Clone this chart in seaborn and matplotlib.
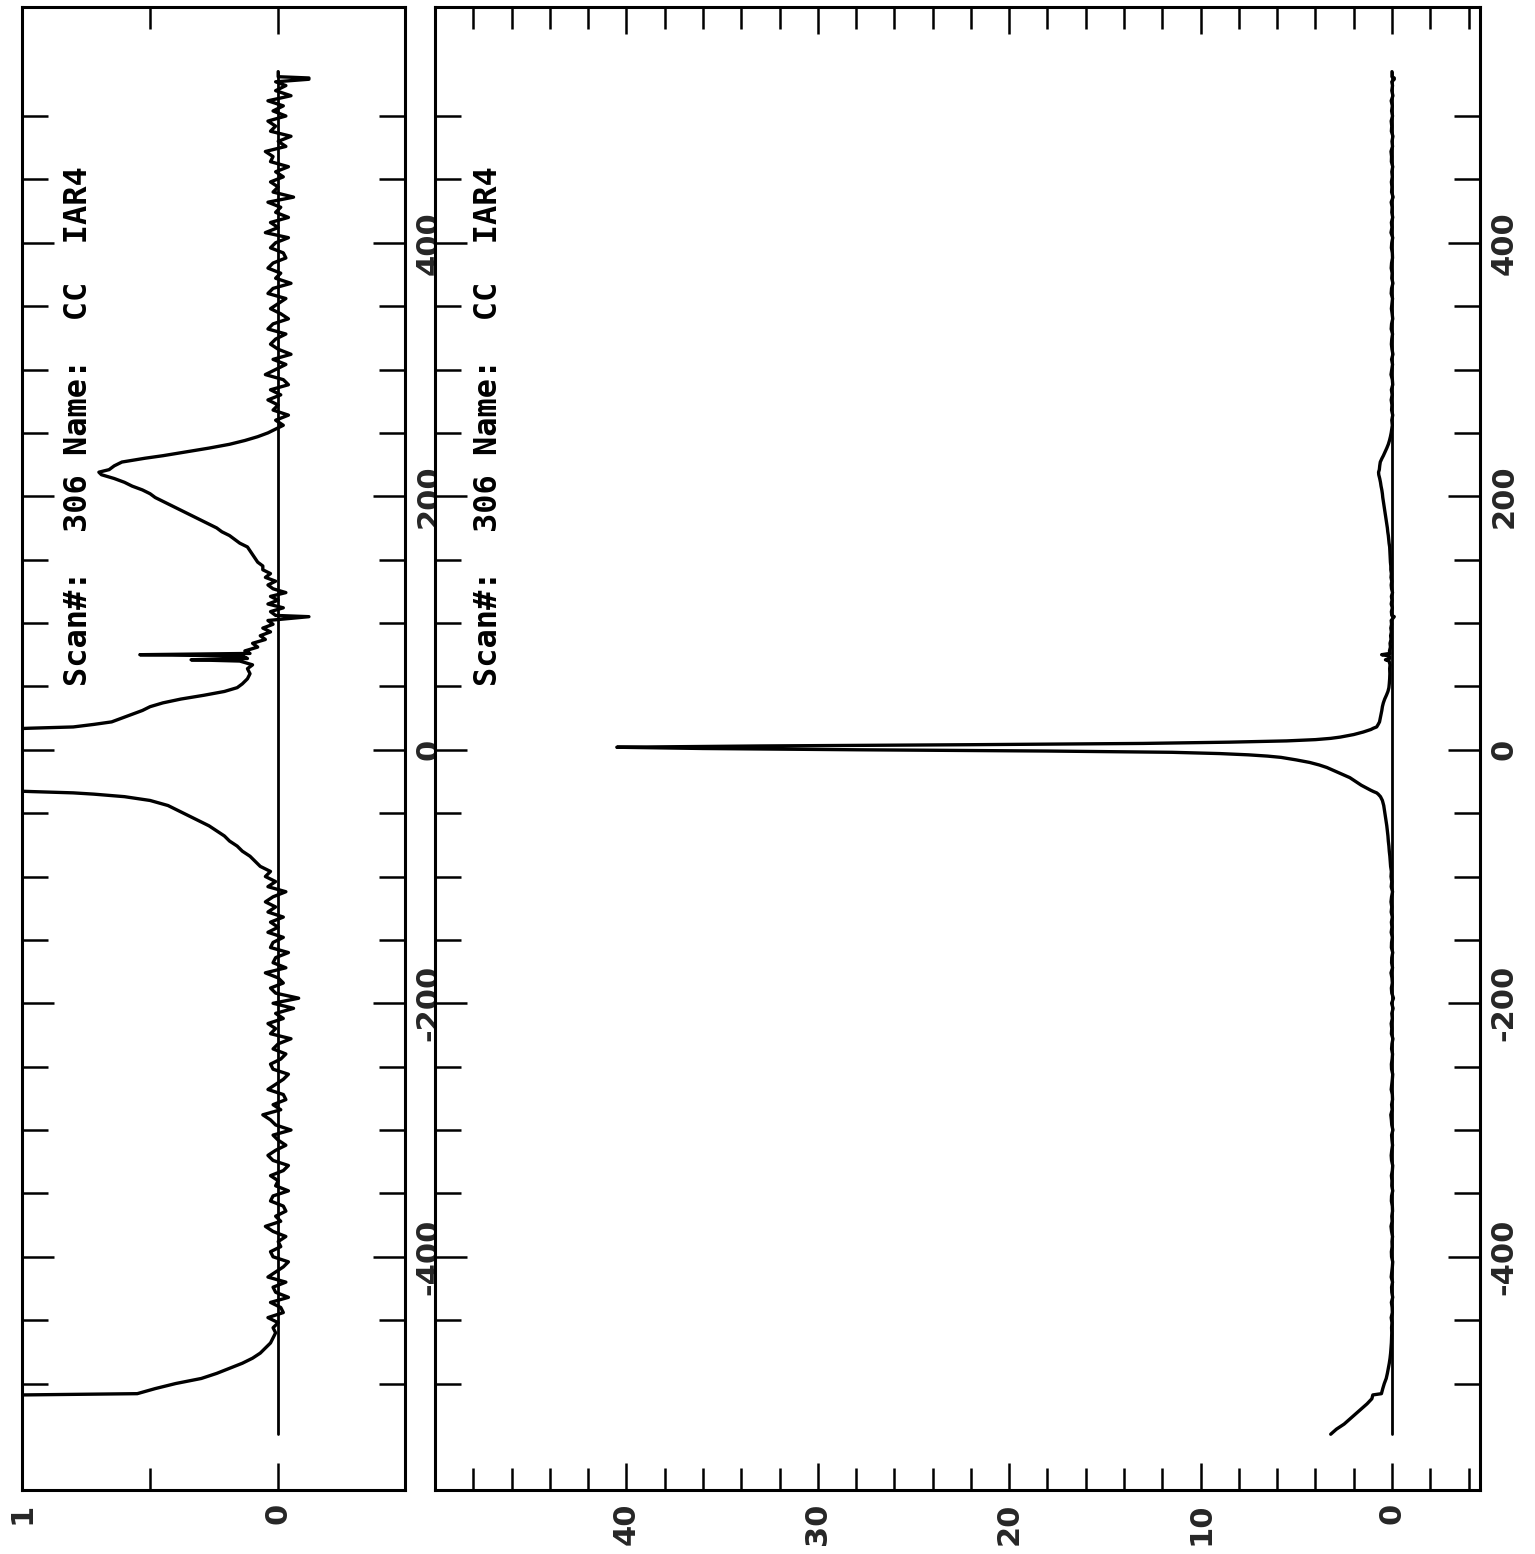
import matplotlib
matplotlib.use("Agg")
import matplotlib.pyplot as plt
from matplotlib.ticker import FixedLocator
import seaborn as sns

# ---------------- data (lag, correlation value) ----------------
tail_lag = [-540, -536, -532, -528, -524, -520, -516, -512, -509, -508, -504, -500,
            -496, -492, -488, -484, -480, -476, -472, -468, -464, -460]
tail_val = [3.2, 2.9, 2.5, 2.2, 1.9, 1.6, 1.3, 1.05, 1.0, 0.55, 0.48, 0.40,
            0.30, 0.24, 0.19, 0.14, 0.10, 0.07, 0.05, 0.03, 0.02, 0.01]

noise_neg_lag = list(range(-456, -119, 4))
noise_neg_val = [0.02, 0.00, 0.04, -0.02, -0.01, 0.03, -0.04, 0.01, 0.02, -0.03,
                 0.04, 0.01, -0.02, -0.04, 0.02, 0.03, -0.01, 0.00, -0.03, 0.02,
                 0.05, -0.01, 0.01, -0.03, -0.02, 0.03, 0.02, -0.04, 0.01, 0.00,
                 0.03, -0.02, -0.04, 0.02, 0.04, 0.01, -0.03, 0.00, 0.02, -0.05,
                 0.01, 0.03, 0.06, -0.01, 0.02, -0.03, -0.02, 0.04, 0.01, -0.02,
                 -0.04, 0.02, 0.03, -0.01, -0.03, 0.02, 0.00, -0.05, 0.03, 0.01,
                 0.04, -0.02, 0.01, -0.06, 0.02, -0.08, 0.01, 0.03, -0.02, 0.00,
                 0.05, -0.03, 0.02, 0.01, -0.04, 0.03, 0.02, -0.02, 0.04, 0.00,
                 0.03, -0.02, 0.04, 0.01, 0.05]

rise_lag = [-116, -112, -108, -104, -100, -96, -92, -88, -84, -80, -76, -72,
            -68, -64, -60, -56, -52, -48, -44, -40, -37, -35, -34, -33]
rise_val = [0.02, -0.03, 0.04, 0.01, 0.05, 0.03, 0.07, 0.09, 0.11, 0.14, 0.16, 0.19,
            0.21, 0.24, 0.27, 0.31, 0.35, 0.39, 0.43, 0.50, 0.60, 0.72, 0.80, 0.96]

peak_lag = [-32, -30, -28, -26, -24, -22, -20, -18, -16, -14, -12, -10, -8, -6,
            -5, -4, -3, -2, -1, 0, 1, 2, 3, 4, 5, 6, 7, 8, 9, 10, 12, 14, 16]
peak_val = [1.1, 1.35, 1.6, 1.8, 2.0, 2.2, 2.5, 2.8, 3.1, 3.4, 3.8, 4.3, 5.0, 5.8,
            6.5, 7.5, 9.0, 11.5, 18.0, 28.0, 36.0, 40.5, 33.0, 22.0, 13.0, 8.5,
            5.5, 4.0, 3.2, 2.7, 2.0, 1.5, 1.1]

shoulder_lag = [17, 18, 20, 22, 25, 28, 31, 34, 37, 40, 43, 46, 49, 52, 56, 60]
shoulder_val = [0.97, 0.80, 0.72, 0.65, 0.61, 0.57, 0.53, 0.50, 0.45, 0.38,
                0.29, 0.21, 0.16, 0.14, 0.12, 0.11]

mid_lag = [64, 67, 70, 71, 72, 74, 75, 76, 78, 81, 84, 87, 90, 93, 96, 99, 102,
           105, 106, 109, 112, 115, 118, 121, 124, 127, 130, 133, 136, 139, 142]
mid_val = [0.12, 0.10, 0.15, 0.34, 0.12, 0.14, 0.54, 0.11, 0.13, 0.08, 0.10, 0.05,
           0.07, 0.03, 0.06, 0.02, 0.04, -0.12, 0.01, 0.03, -0.02, 0.04, 0.00,
           0.03, -0.03, 0.02, 0.04, 0.01, 0.05, 0.03, 0.06]

hump_lag = [145, 148, 151, 154, 157, 160, 163, 166, 169, 172, 175, 178, 181, 184,
            187, 190, 193, 196, 199, 202, 205, 208, 211, 214, 217, 219, 221, 224,
            227, 230, 232, 235, 238, 241, 244, 247, 250, 253]
hump_val = [0.06, 0.08, 0.09, 0.10, 0.11, 0.12, 0.15, 0.17, 0.19, 0.22, 0.24, 0.27,
            0.30, 0.33, 0.36, 0.39, 0.42, 0.45, 0.48, 0.50, 0.53, 0.57, 0.60, 0.64,
            0.69, 0.70, 0.66, 0.64, 0.61, 0.52, 0.45, 0.36, 0.27, 0.19, 0.13, 0.08,
            0.04, 0.01]

noise_pos_lag = list(range(256, 525, 4))
noise_pos_val = [-0.02, 0.01, -0.04, 0.02, 0.00, 0.04, -0.01, 0.03, -0.04, -0.02,
                 0.05, 0.01, -0.03, 0.02, -0.05, 0.00, 0.03, 0.01, -0.03, 0.04,
                 0.02, -0.04, -0.01, 0.03, 0.00, -0.03, 0.04, 0.02, -0.05, 0.01,
                 -0.01, 0.04, 0.02, -0.03, -0.02, 0.03, 0.01, -0.04, 0.05, 0.00,
                 0.03, -0.04, 0.01, -0.01, 0.04, -0.06, 0.02, 0.00, 0.03, -0.02,
                 0.01, -0.04, 0.03, 0.02, 0.05, -0.03, 0.00, -0.05, 0.03, 0.01,
                 0.04, -0.03, 0.02, -0.02, 0.04, -0.05, 0.01, -0.03]

end_lag = [527, 529, 530, 531, 535]
end_val = [0.01, -0.12, -0.12, 0.0, 0.0]

baseline_lag = [-540, 535]
baseline_val = [0.0, 0.0]

title_text = "Scan#:  306 Name:  CC  IAR4"

segments = [(tail_lag, tail_val), (noise_neg_lag, noise_neg_val), (rise_lag, rise_val),
            (peak_lag, peak_val), (shoulder_lag, shoulder_val), (mid_lag, mid_val),
            (hump_lag, hump_val), (noise_pos_lag, noise_pos_val), (end_lag, end_val)]
lags, vals = [], []
for l, v in segments:
    assert len(l) == len(v), (len(l), len(v))
    lags += list(l)
    vals += list(v)

# ---------------- style ----------------
sns.set_style("white")
plt.rcParams["font.family"] = ["DejaVu Sans"]
plt.rcParams["font.weight"] = "bold"
plt.rcParams["axes.unicode_minus"] = False

W, H = 1535, 1554
fig = plt.figure(figsize=(W / 100, H / 100), dpi=100)
ax1 = fig.add_axes([22 / W, 64 / H, 383 / W, 1483 / H])
ax2 = fig.add_axes([435 / W, 64 / H, 1045 / W, 1483 / H])

for ax, xlim, xmaj, xmin, txt_x in [
        (ax1, (1.0, -0.495), [0, 1], [0.5], 0.78),
        (ax2, (50, -4.6), [0, 10, 20, 30, 40], list(range(-4, 49, 2)), 47.2)]:
    sns.lineplot(x=baseline_val, y=baseline_lag, sort=False, estimator=None,
                 ax=ax, color="black", lw=2.0)
    sns.lineplot(x=vals, y=lags, sort=False, estimator=None, ax=ax,
                 color="black", lw=2.4)
    ax.set_xlim(*xlim)
    ax.set_ylim(-584, 586)
    ax.set_xlabel("")
    ax.set_ylabel("")
    ax.xaxis.set_major_locator(FixedLocator(xmaj))
    ax.xaxis.set_minor_locator(FixedLocator(xmin))
    ax.set_xticklabels([str(t) for t in xmaj])
    ax.yaxis.set_major_locator(FixedLocator([-400, -200, 0, 200, 400]))
    ax.yaxis.set_minor_locator(FixedLocator(list(range(-500, 501, 50))))
    ax.set_yticklabels(["-400", "-200", "0", "200", "400"])
    ax.tick_params(axis="y", which="both", direction="in", left=True, right=True,
                   labelleft=False, labelright=True, width=1.8, color="black",
                   labelrotation=90, pad=7, labelsize=22)
    ax.tick_params(axis="y", which="major", length=23)
    ax.tick_params(axis="y", which="minor", length=18.5)
    ax.tick_params(axis="x", which="both", direction="in", bottom=True, top=True,
                   labelbottom=True, labeltop=False, width=1.8, color="black",
                   labelrotation=90, pad=9, labelsize=22)
    ax.tick_params(axis="x", which="major", length=19.5)
    ax.tick_params(axis="x", which="minor", length=15.5)
    for lab in ax.get_yticklabels():
        lab.set_verticalalignment("center")
    for s in ax.spines.values():
        s.set_visible(True)
        s.set_linewidth(2.2)
        s.set_color("black")
    ax.text(txt_x, 50, title_text, rotation=90, ha="center", va="bottom",
            family="DejaVu Sans Mono", fontsize=23, weight="bold", color="black")

fig.savefig("out.png", dpi=100, facecolor="white")
